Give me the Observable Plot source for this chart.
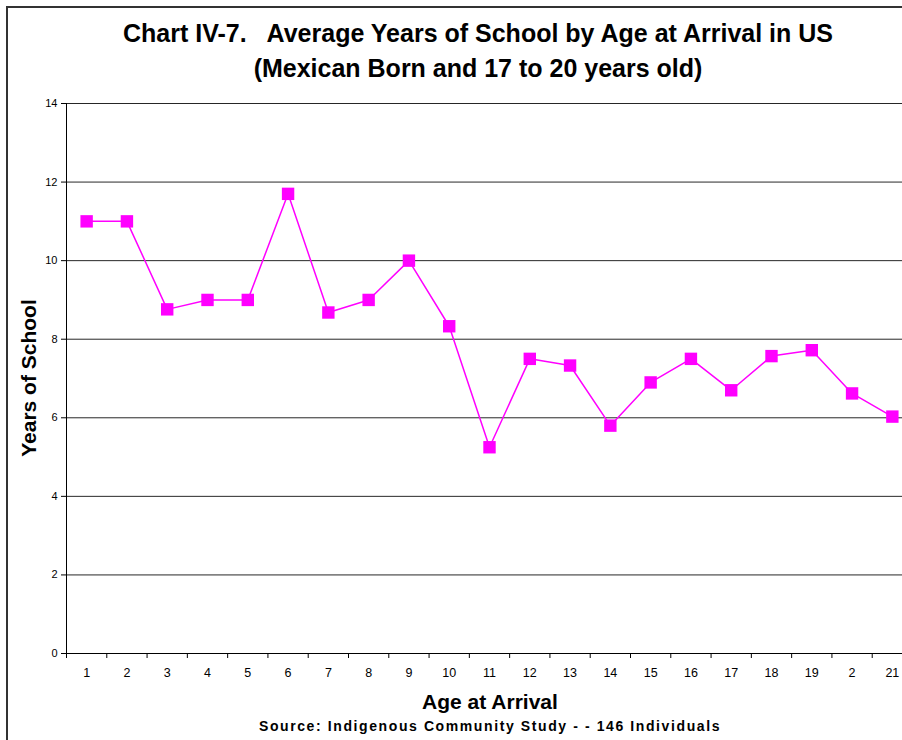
<!DOCTYPE html>
<html><head><meta charset="utf-8">
<script src="https://cdn.jsdelivr.net/npm/d3@7"></script>
<script src="https://cdn.jsdelivr.net/npm/@observablehq/plot@0.6"></script>
<style>
body{margin:0;background:#fff;}
#wrap{position:relative;width:902px;height:740px;overflow:hidden;font-family:"Liberation Sans",Arial,sans-serif;background:#fff;}
#frame{position:absolute;left:6px;top:6px;width:910px;height:760px;border-left:2px solid #333;border-top:2px solid #333;box-sizing:border-box;pointer-events:none;}
.t{position:absolute;white-space:pre;font-weight:bold;color:#000;transform:translateX(-50%);line-height:1;}
#chart{position:absolute;left:0;top:0;}
</style>
</head><body>
<div id="wrap">
  <div id="chart"></div>
  <div class="t" style="left:478px;top:21px;font-size:25px;">Chart IV-7.   Average Years of School by Age at Arrival in US</div>
  <div class="t" style="left:478px;top:56px;font-size:25px;">(Mexican Born and 17 to 20 years old)</div>
  <div class="t" style="left:490px;top:691px;font-size:21px;">Age at Arrival</div>
  <div class="t" style="left:490px;top:719px;font-size:14px;letter-spacing:1.6px;">Source: Indigenous Community Study - - 146 Individuals</div>
  <div class="t" style="left:28px;top:378px;font-size:21px;transform:translate(-50%,-50%) rotate(-90deg);">Years of School</div>
  <div id="frame"></div>
</div>
<script>
const ages = [1,2,3,4,5,6,7,8,9,10,11,12,13,14,15,16,17,18,19,20,21];
const ageLabels = ["1","2","3","4","5","6","7","8","9","10","11","12","13","14","15","16","17","18","19","2","21"];
const years = [11.0,11.0,8.76,9.0,9.0,11.7,8.68,9.0,10.0,8.33,5.25,7.5,7.33,5.8,6.9,7.5,6.7,7.57,7.72,6.62,6.03];
const yTicks = [0,2,4,6,8,10,12,14];

const data = ages.map((a,i) => ({age:a, years:years[i]}));
const bounds = d3.range(0.5, 22, 1);

const chart = Plot.plot({
  width: 902,
  height: 740,
  marginTop: 103,
  marginBottom: 87,
  marginLeft: 66,
  marginRight: 0,
  style: {fontFamily: "'Liberation Sans', Arial, sans-serif", background: "transparent", overflow: "visible"},
  x: {type: "linear", domain: [0.5, 21.5], range: [66, 912]},
  y: {domain: [0, 14]},
  marks: [
    Plot.ruleY(yTicks.filter(d => d > 0), {stroke: "#000", strokeWidth: 1, strokeOpacity: 0.85}),
    Plot.ruleX([0.5], {stroke: "#000", strokeWidth: 1}),
    Plot.ruleY([0], {stroke: "#000", strokeWidth: 1}),
    Plot.axisY({ticks: yTicks, tickSize: 5, tickPadding: 4, fontSize: 11, label: null, stroke: "#000", color: "#000"}),
    Plot.axisX({ticks: bounds, tickSize: 5, tickFormat: () => "", label: null}),
    Plot.axisX({ticks: ages, tickSize: 0, tickPadding: 15, fontSize: 12.5, label: null,
      tickFormat: d => ageLabels[ages.indexOf(d)]}),
    Plot.line(data, {x: "age", y: "years", stroke: "#FF00FF", strokeWidth: 1.5}),
    Plot.dot(data, {x: "age", y: "years", symbol: "square", r: 7, fill: "#FF00FF", stroke: "none"})
  ]
});
document.getElementById("chart").appendChild(chart);
</script>
</body></html>
